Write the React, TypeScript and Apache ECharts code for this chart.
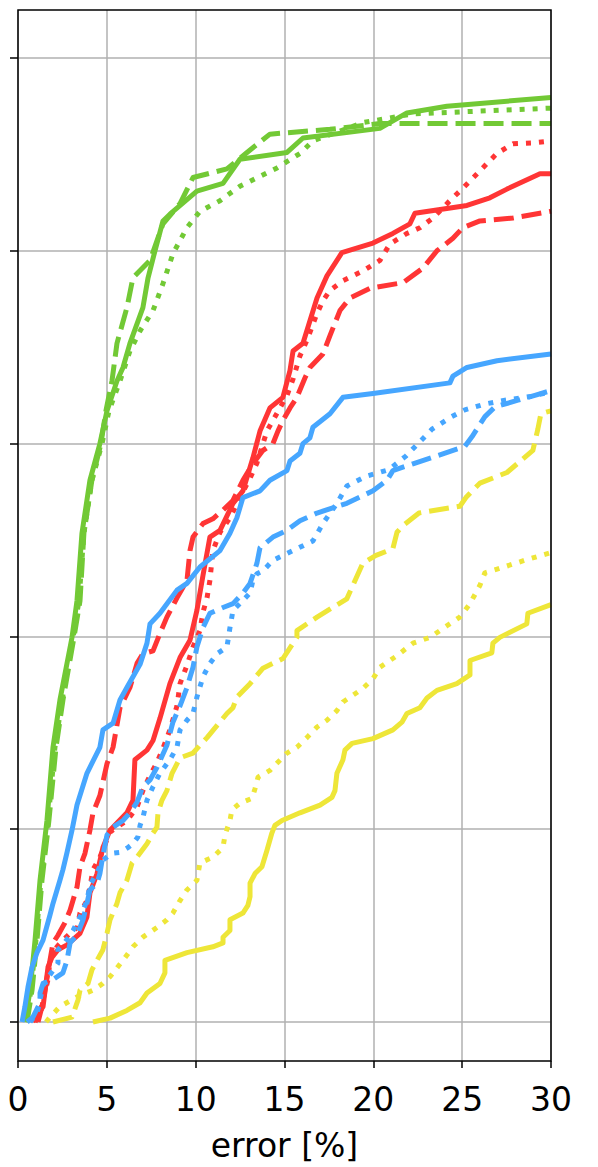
import React, { useEffect, useRef } from "react";
import * as echarts from "echarts";

// x: error [%], y: cumulative fraction (0..1)
const greenSolid: number[][] = [
  [0.39, 0], [0.68, 0.033], [0.96, 0.085], [1.24, 0.147], [1.63, 0.209], [1.97, 0.285], [2.36, 0.334],
  [3.04, 0.399], [3.32, 0.437], [3.6, 0.507], [4.05, 0.562], [4.61, 0.6], [5.01, 0.634], [5.57, 0.665],
  [5.91, 0.679], [6.3, 0.704], [7.03, 0.741], [7.32, 0.772], [7.71, 0.8], [8.16, 0.831], [8.55, 0.838],
  [10.07, 0.862], [11.54, 0.87], [12.49, 0.895], [15.14, 0.902], [16.04, 0.917], [20.37, 0.927],
  [21.89, 0.943], [24.14, 0.95], [30, 0.959],
];
const greenDashed: number[][] = [
  [0.51, 0], [0.79, 0.033], [1.07, 0.085], [1.35, 0.147], [1.74, 0.209], [2.14, 0.285], [2.53, 0.334],
  [3.15, 0.399], [3.49, 0.437], [3.71, 0.507], [4.16, 0.562], [4.67, 0.6], [4.95, 0.634], [5.29, 0.665],
  [5.57, 0.704], [6.13, 0.741], [6.47, 0.772], [7.43, 0.79], [8.16, 0.828], [9.12, 0.849], [9.85, 0.876],
  [11.76, 0.885], [12.89, 0.902], [14.18, 0.921], [17.56, 0.926], [20.37, 0.932], [30, 0.932],
];
const greenDotted: number[][] = [
  [0.45, 0], [0.73, 0.033], [1.01, 0.085], [1.29, 0.147], [1.69, 0.209], [2.08, 0.285], [2.48, 0.334],
  [3.1, 0.399], [3.43, 0.437], [3.71, 0.507], [4.16, 0.562], [4.73, 0.6], [5.12, 0.634], [5.74, 0.665],
  [6.3, 0.696], [6.87, 0.717], [7.6, 0.738], [8.16, 0.766], [8.72, 0.797], [9.51, 0.824], [10.24, 0.841],
  [11.37, 0.852], [12.49, 0.867], [14.58, 0.886], [15.87, 0.901], [16.6, 0.914], [19.41, 0.933],
  [22.23, 0.942], [30, 0.948],
];
const redSolid: number[][] = [
  [0.84, 0], [1.41, 0.016], [1.69, 0.057], [1.91, 0.067], [2.25, 0.075], [2.76, 0.08], [3.49, 0.092],
  [3.88, 0.109], [4.05, 0.134], [4.45, 0.154], [4.78, 0.181], [5.18, 0.199], [6.13, 0.217], [6.47, 0.23],
  [6.58, 0.272], [7.26, 0.282], [7.6, 0.292], [7.99, 0.315], [8.55, 0.351], [9.12, 0.378], [9.68, 0.396],
  [10.07, 0.427], [10.41, 0.463], [10.8, 0.503], [11.37, 0.51], [12.1, 0.538], [12.66, 0.551],
  [13.22, 0.585], [13.62, 0.613], [14.18, 0.637], [14.91, 0.648], [15.31, 0.676], [15.48, 0.696],
  [16.04, 0.704], [16.83, 0.751], [17.39, 0.774], [18.23, 0.798], [19.98, 0.808], [21.1, 0.818],
  [22.06, 0.828], [22.34, 0.839], [25.27, 0.847], [26.56, 0.855], [27.52, 0.864], [29.38, 0.88], [30, 0.88],
];
const redDashed: number[][] = [
  [1.13, 0], [1.35, 0.016], [1.52, 0.033], [1.8, 0.064], [1.97, 0.082], [2.25, 0.09], [2.64, 0.103],
  [2.93, 0.116], [3.32, 0.14], [3.49, 0.161], [3.77, 0.175], [4.05, 0.199], [4.22, 0.217], [4.61, 0.235],
  [5.01, 0.268], [5.35, 0.285], [5.57, 0.308], [5.74, 0.326], [6.3, 0.347], [6.7, 0.372], [7.03, 0.382],
  [7.6, 0.385], [7.99, 0.403], [8.38, 0.42], [8.95, 0.44], [9.51, 0.458], [9.68, 0.489], [9.85, 0.503],
  [10.41, 0.517], [10.97, 0.522], [11.54, 0.531], [12.1, 0.541], [12.66, 0.562], [13.22, 0.579],
  [13.79, 0.593], [14.35, 0.6], [14.63, 0.613], [14.91, 0.624], [15.31, 0.637], [15.7, 0.648],
  [16.15, 0.668], [16.43, 0.679], [17.16, 0.693], [17.56, 0.712], [18.12, 0.738], [18.68, 0.751],
  [19.81, 0.761], [21.67, 0.767], [22.79, 0.782], [23.58, 0.8], [24.48, 0.813], [25.04, 0.824],
  [26.0, 0.831], [27.86, 0.834], [30, 0.841],
];
const redDotted: number[][] = [
  [0.96, 0], [1.24, 0.009], [1.41, 0.023], [1.69, 0.044], [1.8, 0.064], [2.19, 0.078], [2.53, 0.085],
  [2.93, 0.092], [3.32, 0.098], [3.49, 0.113], [3.88, 0.126], [4.05, 0.14], [4.22, 0.158], [4.61, 0.171],
  [5.18, 0.197], [5.57, 0.202], [6.13, 0.209], [6.47, 0.217], [6.7, 0.223], [7.03, 0.24], [7.43, 0.256],
  [7.82, 0.269], [8.16, 0.284], [8.55, 0.303], [8.95, 0.328], [9.12, 0.351], [9.51, 0.37], [9.85, 0.389],
  [10.24, 0.406], [10.41, 0.425], [10.64, 0.44], [10.8, 0.458], [10.97, 0.489], [11.37, 0.508],
  [11.93, 0.523], [12.49, 0.544], [13.06, 0.564], [13.45, 0.58], [14.01, 0.613], [15.14, 0.65],
  [15.48, 0.667], [15.87, 0.691], [16.26, 0.707], [16.83, 0.735], [17.16, 0.748], [17.56, 0.759],
  [18.29, 0.769], [19.41, 0.779], [20.37, 0.79], [20.93, 0.807], [21.89, 0.818], [22.62, 0.824],
  [23.35, 0.834], [24.31, 0.852], [25.04, 0.865], [26.0, 0.883], [26.96, 0.901], [27.86, 0.911],
  [28.98, 0.912], [30, 0.914],
];
const blueSolid: number[][] = [
  [0.23, 0], [0.39, 0.016], [0.56, 0.036], [0.79, 0.057], [1.07, 0.072], [1.41, 0.085], [1.8, 0.111],
  [1.97, 0.123], [2.36, 0.147], [2.53, 0.158], [2.76, 0.176], [3.04, 0.199], [3.32, 0.225], [3.88, 0.258],
  [4.61, 0.285], [4.78, 0.303], [5.35, 0.31], [5.74, 0.334], [6.13, 0.347], [6.87, 0.371], [7.26, 0.393],
  [7.43, 0.413], [7.99, 0.424], [8.95, 0.448], [9.51, 0.455], [10.24, 0.472], [11.37, 0.489],
  [11.93, 0.507], [12.32, 0.523], [12.66, 0.544], [13.62, 0.551], [14.18, 0.562], [15.14, 0.572],
  [15.31, 0.582], [15.87, 0.59], [16.04, 0.6], [16.43, 0.606], [16.6, 0.617], [17.56, 0.631],
  [18.29, 0.648], [19.98, 0.652], [24.31, 0.663], [24.48, 0.67], [25.27, 0.679], [26.96, 0.686], [30, 0.693],
];
const blueDashed: number[][] = [
  [0.51, 0], [0.84, 0.005], [1.24, 0.02], [1.24, 0.03], [1.41, 0.04], [1.97, 0.044], [2.53, 0.051],
  [2.76, 0.064], [2.93, 0.082], [3.32, 0.09], [3.66, 0.106], [3.88, 0.123], [4.05, 0.137], [4.45, 0.144],
  [4.61, 0.154], [4.78, 0.173], [5.01, 0.194], [5.35, 0.202], [5.91, 0.209], [6.3, 0.217], [6.7, 0.228],
  [7.03, 0.244], [7.43, 0.251], [7.82, 0.264], [8.38, 0.287], [8.72, 0.311], [9.12, 0.328], [9.51, 0.347],
  [9.85, 0.368], [10.07, 0.389], [10.41, 0.409], [10.8, 0.424], [11.54, 0.43], [12.1, 0.434],
  [12.66, 0.445], [13.06, 0.455], [13.45, 0.476], [13.62, 0.492], [14.35, 0.503], [15.14, 0.51],
  [15.87, 0.52], [16.83, 0.528], [18.51, 0.538], [19.98, 0.551], [20.77, 0.562], [21.1, 0.572],
  [22.23, 0.579], [25.15, 0.597], [25.55, 0.607], [26.28, 0.628], [26.84, 0.638], [28.14, 0.645],
  [29.09, 0.65], [30, 0.655],
];
const blueDotted: number[][] = [
  [0.68, 0], [1.07, 0.009], [1.24, 0.023], [1.41, 0.038], [1.8, 0.049], [2.25, 0.061], [2.25, 0.075],
  [2.53, 0.08], [2.81, 0.087], [3.1, 0.095], [3.32, 0.103], [3.6, 0.113], [3.88, 0.126], [4.05, 0.142],
  [4.45, 0.155], [4.78, 0.168], [5.29, 0.175], [5.74, 0.176], [6.19, 0.181], [6.47, 0.185], [6.75, 0.192],
  [6.87, 0.204], [7.03, 0.212], [7.26, 0.23], [7.6, 0.244], [7.99, 0.258], [8.55, 0.272], [8.95, 0.285],
  [9.12, 0.303], [9.51, 0.313], [9.85, 0.32], [10.07, 0.337], [10.41, 0.358], [10.8, 0.372], [11.2, 0.382],
  [11.76, 0.389], [11.93, 0.409], [12.1, 0.427], [12.49, 0.434], [13.06, 0.445], [13.22, 0.458],
  [13.45, 0.465], [13.79, 0.468], [14.35, 0.479], [15.48, 0.489], [16.6, 0.499], [17.16, 0.517],
  [17.95, 0.538], [18.51, 0.556], [19.58, 0.566], [20.88, 0.573], [21.83, 0.587], [22.73, 0.604],
  [23.3, 0.615], [24.42, 0.628], [25.15, 0.635], [26.28, 0.641], [27.41, 0.645], [28.93, 0.649], [30, 0.654],
];
const yellowSolid: number[][] = [
  [4.22, 0], [5.18, 0.004], [6.13, 0.012], [6.87, 0.02], [7.26, 0.03], [7.99, 0.04], [8.27, 0.051],
  [8.27, 0.064], [9.51, 0.072], [10.97, 0.078], [11.54, 0.082], [11.54, 0.088], [11.93, 0.095],
  [11.93, 0.106], [12.66, 0.113], [12.94, 0.121], [13.06, 0.13], [13.06, 0.144], [13.34, 0.154],
  [13.73, 0.161], [14.01, 0.178], [14.29, 0.196], [14.46, 0.204], [14.86, 0.209], [15.87, 0.217],
  [17.0, 0.225], [17.67, 0.233], [17.84, 0.24], [17.95, 0.258], [18.29, 0.272], [18.4, 0.282],
  [18.8, 0.289], [19.98, 0.294], [21.1, 0.303], [21.61, 0.311], [21.89, 0.32], [22.62, 0.326],
  [23.02, 0.336], [23.58, 0.344], [24.7, 0.351], [25.44, 0.36], [25.44, 0.375], [26.67, 0.383],
  [26.73, 0.393], [27.12, 0.399], [28.64, 0.413], [28.7, 0.424], [30, 0.433],
];
const yellowDashed: number[][] = [
  [1.97, 0], [3.04, 0.005], [3.38, 0.023], [3.49, 0.033], [3.94, 0.04], [4.16, 0.054], [4.45, 0.064],
  [4.78, 0.075], [5.01, 0.092], [5.18, 0.106], [5.57, 0.123], [5.74, 0.134], [6.13, 0.147], [6.42, 0.165],
  [6.7, 0.171], [7.26, 0.185], [7.6, 0.196], [7.82, 0.202], [7.88, 0.217], [8.1, 0.23], [8.38, 0.24],
  [8.67, 0.258], [9.12, 0.274], [9.85, 0.279], [10.24, 0.287], [10.64, 0.295], [11.76, 0.32],
  [12.1, 0.326], [12.32, 0.337], [13.06, 0.351], [13.79, 0.367], [14.91, 0.377], [15.7, 0.399],
  [15.7, 0.406], [16.83, 0.42], [18.51, 0.439], [18.85, 0.453], [19.41, 0.476], [20.15, 0.484],
  [21.1, 0.491], [21.33, 0.508], [21.67, 0.515], [22.57, 0.528], [24.87, 0.535], [25.21, 0.544],
  [26.0, 0.559], [27.52, 0.57], [28.98, 0.593], [29.26, 0.615], [29.43, 0.631], [30, 0.634],
];
const yellowDotted: number[][] = [
  [1.58, 0], [1.8, 0.005], [2.36, 0.016], [3.32, 0.026], [4.22, 0.033], [4.78, 0.04], [5.18, 0.047],
  [5.91, 0.064], [6.47, 0.078], [7.03, 0.088], [7.82, 0.098], [8.38, 0.106], [8.72, 0.113], [9.12, 0.126],
  [9.51, 0.137], [10.07, 0.147], [10.24, 0.165], [10.97, 0.171], [11.54, 0.181], [11.65, 0.194],
  [11.93, 0.209], [12.04, 0.22], [12.49, 0.227], [13.17, 0.232], [13.34, 0.242], [13.51, 0.254],
  [14.18, 0.261], [15.14, 0.279], [15.7, 0.285], [16.26, 0.295], [16.83, 0.306], [17.39, 0.313],
  [17.95, 0.323], [18.29, 0.332], [18.85, 0.339], [19.41, 0.346], [19.98, 0.356], [20.37, 0.368],
  [21.33, 0.38], [22.23, 0.393], [23.19, 0.399], [24.14, 0.411], [24.87, 0.42], [25.44, 0.434],
  [26.0, 0.453], [26.28, 0.466], [27.01, 0.47], [28.53, 0.479], [30, 0.487],
];

const xTicks = [0, 5, 10, 15, 20, 25, 30];
const yTicks = [0, 0.2, 0.4, 0.6, 0.8, 1.0];
const xName = "error [%]";

const GREEN = "#72c935";
const RED = "#ff3535";
const BLUE = "#46a6ff";
const YELLOW = "#eee638";

const LW = 5;
const DASHED = [20, 8];
const DOTTED = [5, 8];

const seriesDefs: { name: string; data: number[][]; color: string; dash: number[] | "solid" }[] = [
  { name: "green solid", data: greenSolid, color: GREEN, dash: "solid" },
  { name: "green dashed", data: greenDashed, color: GREEN, dash: DASHED },
  { name: "green dotted", data: greenDotted, color: GREEN, dash: DOTTED },
  { name: "red solid", data: redSolid, color: RED, dash: "solid" },
  { name: "red dashed", data: redDashed, color: RED, dash: DASHED },
  { name: "red dotted", data: redDotted, color: RED, dash: DOTTED },
  { name: "blue solid", data: blueSolid, color: BLUE, dash: "solid" },
  { name: "blue dashed", data: blueDashed, color: BLUE, dash: DASHED },
  { name: "blue dotted", data: blueDotted, color: BLUE, dash: DOTTED },
  { name: "yellow solid", data: yellowSolid, color: YELLOW, dash: "solid" },
  { name: "yellow dashed", data: yellowDashed, color: YELLOW, dash: DASHED },
  { name: "yellow dotted", data: yellowDotted, color: YELLOW, dash: DOTTED },
];

export default function App() {
  const ref = useRef<HTMLDivElement>(null);
  useEffect(() => {
    if (!ref.current) return;
    const chart = echarts.init(ref.current, undefined, { renderer: "svg" });
    const font = "DejaVu Sans";
    chart.setOption({
      animation: false,
      backgroundColor: "#ffffff",
      textStyle: { fontFamily: font },
      grid: [
        {
          left: 18, right: 47, top: 10, bottom: 97,
          show: true, borderColor: "#000", borderWidth: 1.5, backgroundColor: "transparent", z: 3,
        },
        { left: 18, right: 47, top: 58, bottom: 145 },
      ],
      xAxis: [
        {
          gridIndex: 0, type: "value", min: xTicks[0], max: xTicks[xTicks.length - 1], interval: 5,
          position: "bottom",
          name: xName, nameLocation: "middle", nameGap: 68,
          nameTextStyle: { fontSize: 33, color: "#000", fontFamily: font },
          axisLine: { show: false, onZero: false },
          axisTick: { show: true, inside: false, length: 7, lineStyle: { color: "#000", width: 1.5 } },
          axisLabel: { show: true, fontSize: 33, color: "#000", margin: 22, fontFamily: font },
          splitLine: { show: true, lineStyle: { color: "#b0b0b0", width: 1.5 } },
        },
        {
          gridIndex: 1, type: "value", min: xTicks[0], max: xTicks[xTicks.length - 1],
          show: false, axisLine: { onZero: false }, splitLine: { show: false },
        },
      ],
      yAxis: [
        { gridIndex: 0, type: "value", min: -0.05, max: 1.05, show: false, splitLine: { show: false } },
        {
          gridIndex: 1, type: "value", min: yTicks[0], max: yTicks[yTicks.length - 1], interval: 0.2,
          position: "left",
          axisLine: { show: false, onZero: false },
          axisTick: { show: true, inside: false, length: 8, lineStyle: { color: "#000", width: 1.5 } },
          axisLabel: { show: false },
          splitLine: { show: true, lineStyle: { color: "#b0b0b0", width: 1.5 } },
        },
      ],
      series: seriesDefs.map((s, i) => ({
        name: s.name,
        type: "line",
        xAxisIndex: 1,
        yAxisIndex: 1,
        data: s.data,
        showSymbol: false,
        symbol: "none",
        z: 2 + i * 0.01,
        clip: false,
        lineStyle: {
          color: s.color,
          width: LW,
          type: s.dash,
          cap: "butt",
          join: "round",
        },
      })),
    });
    return () => chart.dispose();
  }, []);
  return (
    <div
      ref={ref}
      style={{ position: "fixed", left: 0, top: 0, width: 598, height: 1167, background: "#fff" }}
    />
  );
}
